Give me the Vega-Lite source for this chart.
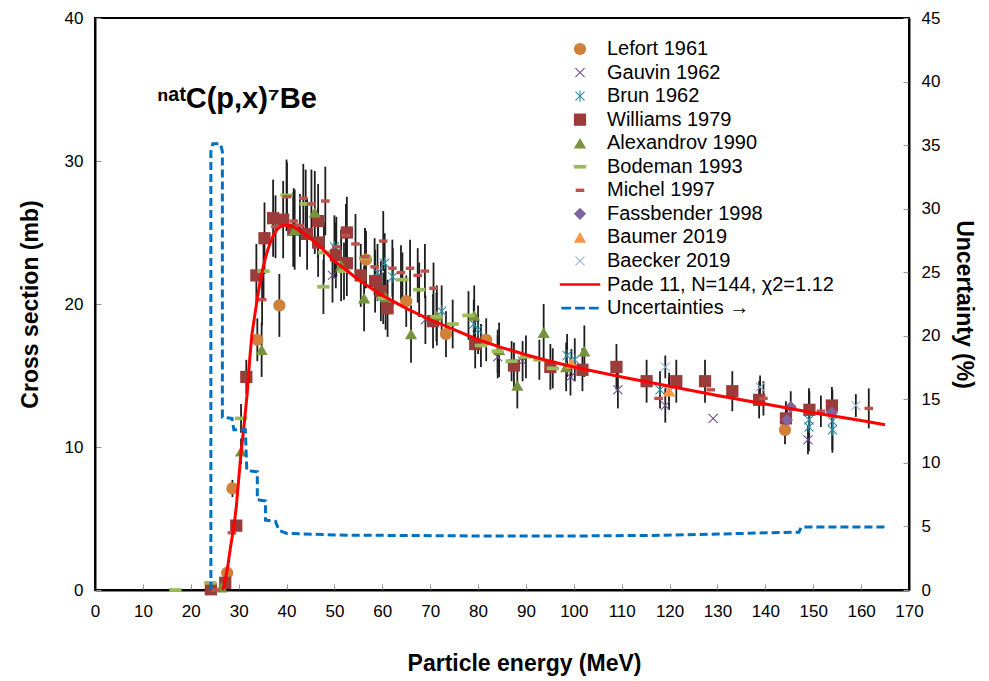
{
  "$schema": "https://vega.github.io/schema/vega-lite/v6.json",
  "width": 814,
  "height": 572,
  "autosize": {"type": "none"},
  "padding": {"left": 95, "top": 18, "right": 80, "bottom": 91},
  "background": "white",
  "title": {"text": "ⁿᵃᵗC(p,x)⁷Be", "anchor": "start", "frame": "group", "dx": 62, "dy": 132, "baseline": "alphabetic", "fontSize": 29, "fontWeight": "bold", "font": "Liberation Sans", "color": "black"},
  "config": {
    "view": {"stroke": "black", "strokeWidth": 2},
    "font": "Liberation Sans",
    "axis": {"labelFont": "Liberation Sans", "labelFontSize": 17, "labelColor": "black", "labelFlush": false, "titleFont": "Liberation Sans", "titleFontSize": 23, "titleFontWeight": "bold", "titleColor": "black", "domainColor": "black", "domainWidth": 2, "tickColor": "#999999", "tickSize": -6, "tickWidth": 1, "grid": false},
    "legend": {"orient": "none", "legendX": 475, "legendY": 21, "title": null, "labelFont": "Liberation Sans", "labelFontSize": 20, "labelColor": "black", "labelLimit": 400, "symbolSize": 150, "symbolStrokeWidth": 0, "symbolOpacity": 1, "rowPadding": 3.55, "labelOffset": 17, "padding": 0}
  },
  "datasets": {
    "pts": [
      {"s": "Lefort 1961", "E": 27.6, "v": 1.2, "e": 0.2},
      {"s": "Lefort 1961", "E": 28.7, "v": 7.1, "e": 0.6},
      {"s": "Lefort 1961", "E": 33.9, "v": 17.5, "e": 1.5},
      {"s": "Lefort 1961", "E": 38.5, "v": 19.9, "e": 2.2},
      {"s": "Lefort 1961", "E": 56.6, "v": 23.1, "e": 2.0},
      {"s": "Lefort 1961", "E": 65.0, "v": 20.2, "e": 1.8},
      {"s": "Lefort 1961", "E": 73.3, "v": 17.9, "e": 1.6},
      {"s": "Lefort 1961", "E": 81.7, "v": 17.5, "e": 1.5},
      {"s": "Lefort 1961", "E": 144.1, "v": 11.2, "e": 1.0},
      {"s": "Gauvin 1962", "E": 49.6, "v": 22.0, "e": 1.9},
      {"s": "Gauvin 1962", "E": 69.0, "v": 18.9, "e": 1.7},
      {"s": "Gauvin 1962", "E": 84.1, "v": 16.3, "e": 1.5},
      {"s": "Gauvin 1962", "E": 89.3, "v": 16.0, "e": 1.4},
      {"s": "Gauvin 1962", "E": 99.3, "v": 14.9, "e": 1.3},
      {"s": "Gauvin 1962", "E": 109.2, "v": 14.0, "e": 1.3},
      {"s": "Gauvin 1962", "E": 119.1, "v": 12.9, "e": 1.2},
      {"s": "Gauvin 1962", "E": 129.1, "v": 12.0, "e": 0},
      {"s": "Gauvin 1962", "E": 148.9, "v": 10.5, "e": 1.0},
      {"s": "Brun 1962", "E": 50.0, "v": 24.0, "e": 2.2},
      {"s": "Brun 1962", "E": 59.0, "v": 22.2, "e": 2.0},
      {"s": "Brun 1962", "E": 60.5, "v": 22.85, "e": 2.1},
      {"s": "Brun 1962", "E": 62.2, "v": 21.9, "e": 2.0},
      {"s": "Brun 1962", "E": 72.4, "v": 19.5, "e": 1.8},
      {"s": "Brun 1962", "E": 79.1, "v": 18.6, "e": 1.7},
      {"s": "Brun 1962", "E": 80.0, "v": 18.2, "e": 1.7},
      {"s": "Brun 1962", "E": 98.6, "v": 16.4, "e": 1.5},
      {"s": "Brun 1962", "E": 100.2, "v": 16.1, "e": 1.5},
      {"s": "Brun 1962", "E": 118.0, "v": 14.0, "e": 1.3},
      {"s": "Brun 1962", "E": 119.9, "v": 13.9, "e": 1.3},
      {"s": "Brun 1962", "E": 149.1, "v": 11.9, "e": 2.2},
      {"s": "Brun 1962", "E": 149.1, "v": 11.4, "e": 1.1},
      {"s": "Brun 1962", "E": 154.0, "v": 11.8, "e": 2.2},
      {"s": "Brun 1962", "E": 154.0, "v": 11.2, "e": 1.4},
      {"s": "Williams 1979", "E": 24.2, "v": 0.05, "e": 0},
      {"s": "Williams 1979", "E": 27.2, "v": 0.5, "e": 0},
      {"s": "Williams 1979", "E": 29.5, "v": 4.5, "e": 0.3},
      {"s": "Williams 1979", "E": 31.6, "v": 14.9, "e": 1.2},
      {"s": "Williams 1979", "E": 33.7, "v": 22.0, "e": 2.2},
      {"s": "Williams 1979", "E": 35.4, "v": 24.6, "e": 2.5},
      {"s": "Williams 1979", "E": 37.2, "v": 26.0, "e": 2.7},
      {"s": "Williams 1979", "E": 39.3, "v": 25.9, "e": 2.7},
      {"s": "Williams 1979", "E": 41.4, "v": 25.2, "e": 2.6},
      {"s": "Williams 1979", "E": 44.3, "v": 24.9, "e": 2.5},
      {"s": "Williams 1979", "E": 46.6, "v": 25.8, "e": 2.6},
      {"s": "Williams 1979", "E": 46.6, "v": 24.3, "e": 2.4},
      {"s": "Williams 1979", "E": 50.3, "v": 23.4, "e": 2.3},
      {"s": "Williams 1979", "E": 52.6, "v": 25.0, "e": 2.5},
      {"s": "Williams 1979", "E": 52.6, "v": 22.85, "e": 2.3},
      {"s": "Williams 1979", "E": 55.5, "v": 22.0, "e": 2.2},
      {"s": "Williams 1979", "E": 58.5, "v": 21.6, "e": 2.2},
      {"s": "Williams 1979", "E": 59.7, "v": 20.9, "e": 2.1},
      {"s": "Williams 1979", "E": 61.1, "v": 19.7, "e": 2.0},
      {"s": "Williams 1979", "E": 70.6, "v": 18.8, "e": 1.9},
      {"s": "Williams 1979", "E": 79.4, "v": 17.2, "e": 1.7},
      {"s": "Williams 1979", "E": 87.5, "v": 15.7, "e": 1.6},
      {"s": "Williams 1979", "E": 95.1, "v": 15.6, "e": 1.6},
      {"s": "Williams 1979", "E": 101.8, "v": 15.4, "e": 1.5},
      {"s": "Williams 1979", "E": 108.9, "v": 15.6, "e": 1.6},
      {"s": "Williams 1979", "E": 115.2, "v": 14.6, "e": 1.5},
      {"s": "Williams 1979", "E": 121.4, "v": 14.6, "e": 1.5},
      {"s": "Williams 1979", "E": 127.4, "v": 14.6, "e": 1.5},
      {"s": "Williams 1979", "E": 133.1, "v": 13.9, "e": 1.4},
      {"s": "Williams 1979", "E": 138.7, "v": 13.3, "e": 1.3},
      {"s": "Williams 1979", "E": 144.3, "v": 12.0, "e": 1.2},
      {"s": "Williams 1979", "E": 149.2, "v": 12.6, "e": 1.3},
      {"s": "Williams 1979", "E": 153.9, "v": 12.9, "e": 1.3},
      {"s": "Alexandrov 1990", "E": 26.4, "v": 0.2, "e": 0},
      {"s": "Alexandrov 1990", "E": 30.5, "v": 9.7, "e": 0.9},
      {"s": "Alexandrov 1990", "E": 34.8, "v": 16.8, "e": 1.9},
      {"s": "Alexandrov 1990", "E": 41.7, "v": 25.2, "e": 2.8},
      {"s": "Alexandrov 1990", "E": 45.9, "v": 26.4, "e": 2.9},
      {"s": "Alexandrov 1990", "E": 51.4, "v": 22.7, "e": 2.5},
      {"s": "Alexandrov 1990", "E": 56.2, "v": 20.4, "e": 2.3},
      {"s": "Alexandrov 1990", "E": 60.7, "v": 20.5, "e": 2.3},
      {"s": "Alexandrov 1990", "E": 66.0, "v": 17.9, "e": 2.0},
      {"s": "Alexandrov 1990", "E": 71.4, "v": 19.2, "e": 2.1},
      {"s": "Alexandrov 1990", "E": 79.2, "v": 19.2, "e": 2.1},
      {"s": "Alexandrov 1990", "E": 84.4, "v": 16.8, "e": 1.9},
      {"s": "Alexandrov 1990", "E": 88.2, "v": 14.3, "e": 1.6},
      {"s": "Alexandrov 1990", "E": 93.7, "v": 18.0, "e": 2.0},
      {"s": "Alexandrov 1990", "E": 98.4, "v": 15.6, "e": 1.7},
      {"s": "Alexandrov 1990", "E": 102.2, "v": 16.7, "e": 1.8},
      {"s": "Bodeman 1993", "E": 16.8, "v": 0, "e": 0},
      {"s": "Bodeman 1993", "E": 24.1, "v": 0.5, "e": 0},
      {"s": "Bodeman 1993", "E": 30.5, "v": 12.0, "e": 1.0},
      {"s": "Bodeman 1993", "E": 35.2, "v": 22.3, "e": 2.0},
      {"s": "Bodeman 1993", "E": 40.0, "v": 27.6, "e": 2.5},
      {"s": "Bodeman 1993", "E": 44.0, "v": 27.0, "e": 2.4},
      {"s": "Bodeman 1993", "E": 47.8, "v": 23.6, "e": 2.1},
      {"s": "Bodeman 1993", "E": 47.7, "v": 21.2, "e": 1.9},
      {"s": "Bodeman 1993", "E": 52.0, "v": 22.3, "e": 2.0},
      {"s": "Bodeman 1993", "E": 56.4, "v": 23.2, "e": 2.1},
      {"s": "Bodeman 1993", "E": 60.2, "v": 20.4, "e": 1.8},
      {"s": "Bodeman 1993", "E": 64.2, "v": 21.7, "e": 1.9},
      {"s": "Bodeman 1993", "E": 67.7, "v": 21.0, "e": 1.9},
      {"s": "Bodeman 1993", "E": 71.3, "v": 19.1, "e": 1.7},
      {"s": "Bodeman 1993", "E": 74.7, "v": 18.6, "e": 1.7},
      {"s": "Bodeman 1993", "E": 78.0, "v": 19.2, "e": 1.7},
      {"s": "Bodeman 1993", "E": 80.6, "v": 17.1, "e": 1.5},
      {"s": "Bodeman 1993", "E": 84.1, "v": 16.7, "e": 1.5},
      {"s": "Bodeman 1993", "E": 87.0, "v": 16.0, "e": 1.4},
      {"s": "Bodeman 1993", "E": 90.0, "v": 16.3, "e": 1.5},
      {"s": "Bodeman 1993", "E": 92.8, "v": 16.1, "e": 1.4},
      {"s": "Bodeman 1993", "E": 95.6, "v": 15.5, "e": 1.4},
      {"s": "Michel 1997", "E": 25.1, "v": 0, "e": 0},
      {"s": "Michel 1997", "E": 28.6, "v": 4.0, "e": 0.3},
      {"s": "Michel 1997", "E": 34.9, "v": 20.3, "e": 1.8},
      {"s": "Michel 1997", "E": 37.7, "v": 25.4, "e": 2.2},
      {"s": "Michel 1997", "E": 40.1, "v": 27.5, "e": 2.4},
      {"s": "Michel 1997", "E": 41.5, "v": 25.8, "e": 2.3},
      {"s": "Michel 1997", "E": 42.8, "v": 25.5, "e": 2.2},
      {"s": "Michel 1997", "E": 43.5, "v": 27.4, "e": 2.4},
      {"s": "Michel 1997", "E": 45.2, "v": 27.0, "e": 2.4},
      {"s": "Michel 1997", "E": 48.1, "v": 27.2, "e": 2.4},
      {"s": "Michel 1997", "E": 50.4, "v": 24.0, "e": 2.1},
      {"s": "Michel 1997", "E": 52.4, "v": 24.8, "e": 2.2},
      {"s": "Michel 1997", "E": 54.4, "v": 24.2, "e": 2.1},
      {"s": "Michel 1997", "E": 56.4, "v": 23.3, "e": 2.0},
      {"s": "Michel 1997", "E": 58.4, "v": 22.6, "e": 2.0},
      {"s": "Michel 1997", "E": 60.2, "v": 24.4, "e": 2.1},
      {"s": "Michel 1997", "E": 62.1, "v": 22.5, "e": 2.0},
      {"s": "Michel 1997", "E": 63.9, "v": 22.2, "e": 1.9},
      {"s": "Michel 1997", "E": 65.8, "v": 22.5, "e": 2.0},
      {"s": "Michel 1997", "E": 67.4, "v": 22.0, "e": 1.9},
      {"s": "Michel 1997", "E": 68.9, "v": 22.3, "e": 1.9},
      {"s": "Michel 1997", "E": 70.7, "v": 21.1, "e": 1.8},
      {"s": "Michel 1997", "E": 117.7, "v": 13.4, "e": 0},
      {"s": "Michel 1997", "E": 128.6, "v": 14.0, "e": 0},
      {"s": "Michel 1997", "E": 139.6, "v": 13.4, "e": 1.2},
      {"s": "Michel 1997", "E": 151.6, "v": 12.5, "e": 1.1},
      {"s": "Michel 1997", "E": 161.6, "v": 12.7, "e": 1.4},
      {"s": "Fassbender 1998", "E": 145.3, "v": 12.8, "e": 1.1},
      {"s": "Fassbender 1998", "E": 144.5, "v": 11.9, "e": 1.0},
      {"s": "Fassbender 1998", "E": 153.9, "v": 12.4, "e": 1.0},
      {"s": "Baumer 2019", "E": 99.5, "v": 15.85, "e": 1.0},
      {"s": "Baumer 2019", "E": 119.9, "v": 13.9, "e": 1.0},
      {"s": "Baecker 2019", "E": 119.1, "v": 15.6, "e": 0.8},
      {"s": "Baecker 2019", "E": 138.9, "v": 14.2, "e": 0.8},
      {"s": "Baecker 2019", "E": 158.9, "v": 12.9, "e": 0.8}
    ],
    "pade": [
      {"E": 26.7, "v": 0}, {"E": 27.2, "v": 0.7}, {"E": 27.7, "v": 1.6}, {"E": 28.3, "v": 3.0},
      {"E": 29.0, "v": 4.4}, {"E": 29.5, "v": 5.8}, {"E": 30.0, "v": 7.7}, {"E": 30.5, "v": 9.6},
      {"E": 31.1, "v": 11.4}, {"E": 31.8, "v": 13.8}, {"E": 32.3, "v": 16.1}, {"E": 32.8, "v": 17.95},
      {"E": 33.5, "v": 19.5}, {"E": 34.0, "v": 20.6}, {"E": 34.5, "v": 21.6}, {"E": 35.0, "v": 22.4},
      {"E": 35.5, "v": 23.1}, {"E": 36.0, "v": 23.7}, {"E": 36.5, "v": 24.2}, {"E": 37.0, "v": 24.6},
      {"E": 37.5, "v": 24.95}, {"E": 38.0, "v": 25.2}, {"E": 38.5, "v": 25.35}, {"E": 39.0, "v": 25.45},
      {"E": 39.5, "v": 25.5}, {"E": 40.0, "v": 25.5}, {"E": 41.0, "v": 25.45}, {"E": 42.0, "v": 25.3},
      {"E": 44.0, "v": 24.85}, {"E": 46.0, "v": 24.3}, {"E": 48.0, "v": 23.7}, {"E": 50.0, "v": 23.0},
      {"E": 52.0, "v": 22.5}, {"E": 55.0, "v": 21.7}, {"E": 60.0, "v": 20.6}, {"E": 65.0, "v": 19.7},
      {"E": 70.0, "v": 18.9}, {"E": 75.0, "v": 18.2}, {"E": 80.0, "v": 17.5}, {"E": 85.0, "v": 16.95},
      {"E": 90.0, "v": 16.45}, {"E": 95.0, "v": 16.0}, {"E": 100.0, "v": 15.6}, {"E": 105.0, "v": 15.25},
      {"E": 110.0, "v": 14.9}, {"E": 120.0, "v": 14.25}, {"E": 130.0, "v": 13.6}, {"E": 140.0, "v": 13.0},
      {"E": 150.0, "v": 12.4}, {"E": 160.0, "v": 11.85}, {"E": 165.0, "v": 11.55}
    ],
    "unc": [
      {"E": 24.2, "u": 0}, {"E": 24.2, "u": 34.5}, {"E": 24.6, "u": 35.1}, {"E": 26.2, "u": 35.1},
      {"E": 26.6, "u": 34.5}, {"E": 26.6, "u": 13.6}, {"E": 28.6, "u": 13.5}, {"E": 29.0, "u": 12.6},
      {"E": 31.4, "u": 12.6}, {"E": 31.7, "u": 9.4}, {"E": 33.9, "u": 9.3}, {"E": 33.9, "u": 7.1},
      {"E": 35.6, "u": 7.0}, {"E": 35.6, "u": 5.5}, {"E": 37.7, "u": 5.4}, {"E": 38.4, "u": 4.7},
      {"E": 40.1, "u": 4.45}, {"E": 53.4, "u": 4.3}, {"E": 60, "u": 4.3}, {"E": 80, "u": 4.25},
      {"E": 100, "u": 4.25}, {"E": 118, "u": 4.3}, {"E": 130, "u": 4.4}, {"E": 140, "u": 4.5},
      {"E": 147, "u": 4.55}, {"E": 147.5, "u": 4.95}, {"E": 165, "u": 4.95}
    ]
  },
  "encoding": {
    "x": {"field": "E", "type": "quantitative", "scale": {"domain": [0, 170], "nice": false},
      "axis": {"values": [0,10,20,30,40,50,60,70,80,90,100,110,120,130,140,150,160,170], "title": "Particle energy (MeV)", "labelPadding": 19, "titlePadding": 33, "titleX": 429}}
  },
  "layer": [
    {
      "encoding": {
        "y": {"field": "v", "type": "quantitative", "scale": {"domain": [0, 40], "nice": false},
          "axis": {"values": [0,10,20,30,40], "title": "Cross section (mb)", "labelPadding": 18, "titlePadding": 22}}
      },
      "layer": [
        {"data": {"name": "pts"}, "mark": {"type": "errorbar", "color": "#1e1e1e", "thickness": 1.8}, "encoding": {"yError": {"field": "e"}}},
        {"data": {"name": "pts"}, "mark": {"type": "point", "filled": true, "opacity": 1, "size": 150, "strokeWidth": 0},
          "encoding": {
            "color": {"field": "s", "type": "nominal",
              "scale": {"domain": ["Lefort 1961", "Gauvin 1962", "Brun 1962", "Williams 1979", "Alexandrov 1990", "Bodeman 1993", "Michel 1997", "Fassbender 1998", "Baumer 2019", "Baecker 2019", "Pade 11, N=144, χ2=1.12", "Uncertainties →"],
                "range": ["#D08038", "#6A4C8C", "#2E8BA0", "#9B3B3A", "#77933C", "#9BBB59", "#C0504D", "#8064A2", "#F79646", "#95B3D7", "#FF0000", "#0070C0"]}},
            "shape": {"field": "s", "type": "nominal",
              "scale": {"domain": ["Lefort 1961", "Gauvin 1962", "Brun 1962", "Williams 1979", "Alexandrov 1990", "Bodeman 1993", "Michel 1997", "Fassbender 1998", "Baumer 2019", "Baecker 2019", "Pade 11, N=144, χ2=1.12", "Uncertainties →"],
                "range": [
                  "circle",
                  "M-0.8,-0.68L-0.68,-0.8L0,-0.12L0.68,-0.8L0.8,-0.68L0.12,0L0.8,0.68L0.68,0.8L0,0.12L-0.68,0.8L-0.8,0.68L-0.12,0Z",
                  "M-0.8,-0.68L-0.68,-0.8L0,-0.12L0.68,-0.8L0.8,-0.68L0.12,0L0.8,0.68L0.68,0.8L0,0.12L-0.68,0.8L-0.8,0.68L-0.12,0Z M-0.08,-0.95L0.08,-0.95L0.08,0.95L-0.08,0.95Z",
                  "square",
                  "triangle-up",
                  "M-1,-0.3H1V0.3H-1Z",
                  "M-0.7,-0.28H0.7V0.28H-0.7Z",
                  "diamond",
                  "triangle-up",
                  "M-0.8,-0.68L-0.68,-0.8L0,-0.12L0.68,-0.8L0.8,-0.68L0.12,0L0.8,0.68L0.68,0.8L0,0.12L-0.68,0.8L-0.8,0.68L-0.12,0Z",
                  "M-3.3,-0.22H3.3V0.22H-3.3Z",
                  "M-3.05,-0.22H-1.45V0.22H-3.05Z M-0.8,-0.22H0.8V0.22H-0.8Z M1.45,-0.22H3.05V0.22H1.45Z"
                ]}}
          }},
        {"data": {"name": "pade"}, "mark": {"type": "line", "color": "#FF0000", "strokeWidth": 3}}
      ]
    },
    {
      "data": {"name": "unc"},
      "mark": {"type": "line", "color": "#0070C0", "strokeWidth": 3, "strokeDash": [8, 4]},
      "encoding": {
        "y": {"field": "u", "type": "quantitative", "scale": {"domain": [0, 45], "nice": false},
          "axis": {"orient": "right", "values": [0,5,10,15,20,25,30,35,40,45], "title": "Uncertainty (%)", "labelPadding": 18, "titlePadding": 12}}
      }
    }
  ],
  "resolve": {"scale": {"y": "independent"}}
}
